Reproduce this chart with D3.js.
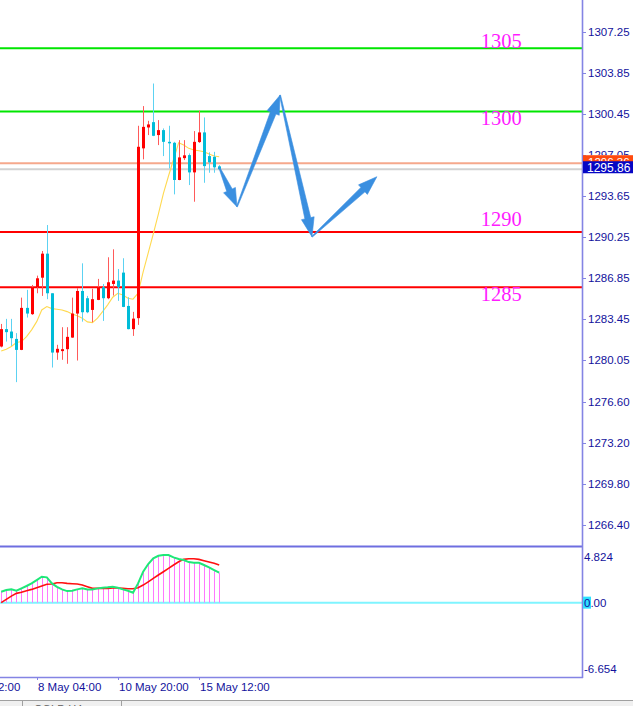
<!DOCTYPE html>
<html><head><meta charset="utf-8">
<script src="https://cdn.jsdelivr.net/npm/d3@7"></script>
<style>body{margin:0;background:#fff;overflow:hidden}svg{display:block}</style>
</head><body><svg id="c" width="633" height="706"></svg>
<script>
// ---------- DATA ----------
const opens  = [1281.18,1282.62,1282.42,1281.81,1280.90,1284.38,1283.86,1286.09,1286.88,1288.87,1285.59,1280.68,1280.80,1280.96,1281.92,1283.91,1285.78,1285.18,1284.21,1285.04,1286.09,1285.18,1286.36,1286.64,1287.30,1284.54,1282.62,1283.53,1297.59,1299.32,1299.76,1298.69,1299.10,1298.13,1298.05,1294.97,1296.78,1297.03,1295.60,1298.11,1298.91,1296.95,1296.89,1296.10];
const highs  = [1283.05,1283.47,1283.47,1282.29,1285.23,1285.87,1286.28,1287.05,1289.09,1291.24,1285.59,1281.32,1282.78,1282.78,1285.23,1286.01,1288.07,1285.37,1285.97,1286.78,1286.36,1288.57,1289.23,1287.60,1288.49,1285.26,1284.05,1299.46,1301.09,1299.87,1302.96,1299.93,1299.24,1299.46,1298.13,1298.27,1298.27,1297.17,1299.02,1300.70,1300.15,1297.26,1297.30,1296.20];
const lows   = [1281.11,1281.59,1281.23,1278.23,1280.88,1283.58,1283.80,1285.59,1285.37,1285.10,1279.44,1280.08,1280.08,1279.75,1281.90,1280.02,1283.24,1283.94,1283.19,1285.02,1283.30,1285.10,1285.40,1284.96,1284.44,1282.60,1282.06,1282.97,1296.68,1298.69,1298.60,1297.86,1296.95,1295.93,1293.78,1294.95,1296.62,1294.55,1293.17,1298.04,1294.74,1295.57,1295.57,1295.80];
const closes = [1282.62,1282.37,1281.87,1280.90,1284.38,1283.91,1286.09,1286.83,1288.87,1285.59,1280.68,1280.99,1280.96,1281.98,1283.91,1285.78,1284.02,1284.02,1285.10,1286.09,1285.18,1286.50,1286.64,1286.09,1284.46,1282.62,1283.49,1297.72,1299.37,1299.57,1298.63,1299.10,1298.13,1298.03,1294.97,1296.84,1297.01,1295.60,1298.13,1298.91,1296.12,1296.43,1296.02,1295.86];
const maValues = [1280.80,1280.96,1281.18,1281.51,1281.59,1282.00,1282.56,1283.24,1284.21,1284.49,1284.32,1284.27,1284.21,1284.07,1283.88,1283.72,1283.53,1283.22,1283.16,1283.53,1284.07,1284.63,1285.26,1285.59,1285.45,1285.18,1285.10,1285.60,1287.36,1288.93,1290.50,1292.15,1293.86,1295.30,1296.68,1298.05,1297.86,1297.59,1297.45,1297.39,1297.31,1297.12,1296.95,1296.89];
const macdMain   = [0.96,1.11,1.17,1.05,1.26,1.47,1.70,1.99,2.29,2.23,1.70,1.40,1.17,1.02,1.05,1.17,1.26,1.17,1.17,1.26,1.32,1.35,1.40,1.32,1.17,1.05,0.87,1.70,2.73,3.41,3.91,4.14,4.20,4.20,4.00,3.85,3.76,3.58,3.52,3.52,3.32,3.12,2.88,2.64];
const macdSignal = [0.00,0.29,0.58,0.82,0.91,1.05,1.17,1.32,1.47,1.62,1.64,1.76,1.76,1.70,1.67,1.64,1.55,1.40,1.26,1.26,1.26,1.26,1.29,1.29,1.26,1.23,1.23,1.32,1.55,1.84,2.14,2.44,2.73,3.03,3.32,3.61,3.82,3.87,3.87,3.82,3.70,3.58,3.47,3.32];

const priceTicks = [1307.25,1303.85,1300.45,1297.05,1293.65,1290.25,1286.85,1283.45,1280.05,1276.60,1273.20,1269.80,1266.40];
const priceTickLabels = ["1307.25","1303.85","1300.45","1297.05","1293.65","1290.25","1286.85","1283.45","1280.05","1276.60","1273.20","1269.80","1266.40"];
const macdTicks = [4.824, 0, -6.654];
const macdTickLabels = ["4.824","0.00","-6.654"];
const timeTickIndex = [-9, 7, 23, 39];
const timeTickLabels = ["3 May 12:00","8 May 04:00","10 May 20:00","15 May 12:00"];

const levelNames = ["1305","1300","1290","1285"];
const levelPrices = [1305.88,1300.65,1290.66,1286.09];
const levelTextPrices = [1305.88,1299.54,1291.16,1284.98];
const levelKinds = ["res","res","sup","sup"];
const levelTextIndex = 94.6;

const askPrice = 1296.36, bidPrice = 1295.86;
const pathIndex  = [43, 46.5, 55, 61.3, 74.1];
const pathPrices = [1296.02, 1292.76, 1301.99, 1290.27, 1295.24];

// ---------- LAYOUT ----------
const W = 633, H = 706, plotR = 582;
const mainTop = 0, mainBot = 546, macdTop = 548, macdBot = 678;
const svg = d3.select("#c");
const x = d3.scaleLinear().domain([0, 43]).range([1.2, 219.2]);
const y = d3.scaleLinear().domain([1266.40, 1307.25]).range([525, 31.7]);
const ym = d3.scaleLinear().domain([-6.654, 4.824]).range([macdBot, macdTop]);
const axisColor = "#8484e4", labelColor = "#12129c";
const font = "'Liberation Sans', Arial, sans-serif";
const fs = 11.5;

svg.append("rect").attr("width", W).attr("height", H).attr("fill", "#fff");
const defs = svg.append("defs");
defs.append("clipPath").attr("id","cm").append("rect").attr("x",0).attr("y",mainTop).attr("width",plotR).attr("height",mainBot-mainTop);
defs.append("clipPath").attr("id","cd").append("rect").attr("x",0).attr("y",macdTop).attr("width",plotR).attr("height",macdBot-macdTop);

const gm = svg.append("g").attr("clip-path","url(#cm)");
const levColor = {res:"#00e600", sup:"#ff0000"};
levelPrices.forEach((p,i)=>{
  gm.append("line").attr("x1",0).attr("x2",plotR).attr("y1",y(p)).attr("y2",y(p))
    .attr("stroke",levColor[levelKinds[i]]).attr("stroke-width",2);
});
gm.append("line").attr("x1",0).attr("x2",plotR).attr("y1",y(askPrice)).attr("y2",y(askPrice)).attr("stroke","#f6a88c").attr("stroke-width",2);
gm.append("line").attr("x1",0).attr("x2",plotR).attr("y1",y(bidPrice)).attr("y2",y(bidPrice)).attr("stroke","#d2d2d2").attr("stroke-width",2);

gm.append("path").datum(maValues).attr("fill","none").attr("stroke","#ffd94f").attr("stroke-width",1.1)
  .attr("d", d3.line().x((d,i)=>x(i)).y(d=>y(d)));

opens.forEach((o,i)=>{
  const c = closes[i], up = c >= o;
  const cx = Math.round(x(i));
  gm.append("line").attr("x1",cx+0.5).attr("x2",cx+0.5).attr("y1",y(highs[i])).attr("y2",y(lows[i]))
    .attr("stroke", up ? "#ff5a5a" : "#5cd2f2").attr("stroke-width",1);
  const top = y(Math.max(o,c)), bot = y(Math.min(o,c));
  gm.append("rect").attr("x",cx-1).attr("width",3).attr("y",top).attr("height",Math.max(1.5,bot-top))
    .attr("fill", up ? "#ff0000" : "#00bcd8");
});

function arrow(p0,p1){
  const dx=p1[0]-p0[0], dy=p1[1]-p0[1], L=Math.hypot(dx,dy);
  const ux=dx/L, uy=dy/L, nx=-uy, ny=ux;
  const hl=Math.min(19, L*0.42), hw=6.5, w0=0.5, w1=3;
  const bx=p1[0]-ux*hl, by=p1[1]-uy*hl;
  const pts=[[p0[0]+nx*w0,p0[1]+ny*w0],[bx+nx*w1,by+ny*w1],[bx+nx*hw,by+ny*hw],[p1[0],p1[1]],
    [bx-nx*hw,by-ny*hw],[bx-nx*w1,by-ny*w1],[p0[0]-nx*w0,p0[1]-ny*w0]];
  gm.append("path").attr("d","M"+pts.map(p=>p.join(",")).join("L")+"Z").attr("fill","#3a8fe0").attr("stroke","#3a8fe0").attr("stroke-width",0.6).attr("stroke-linejoin","round");
}
for(let k=0;k<pathIndex.length-1;k++){
  arrow([x(pathIndex[k]),y(pathPrices[k])],[x(pathIndex[k+1]),y(pathPrices[k+1])]);
}

levelNames.forEach((t,i)=>{
  gm.append("text").attr("x",x(levelTextIndex)).attr("y",y(levelTextPrices[i]))
    .attr("fill","#ff1cff").attr("font-family","'Liberation Serif','Times New Roman',serif").attr("font-size",20.5).text(t);
});

// ---------- MACD ----------
const gd = svg.append("g").attr("clip-path","url(#cd)");
gd.append("line").attr("x1",0).attr("x2",plotR).attr("y1",ym(0)).attr("y2",ym(0)).attr("stroke","#7ff4ff").attr("stroke-width",2);
macdMain.forEach((v,i)=>{
  const cx=Math.round(x(i))+0.5;
  gd.append("line").attr("x1",cx).attr("x2",cx).attr("y1",ym(0)).attr("y2",ym(v)).attr("stroke","#ff78ff").attr("stroke-width",1);
});
gd.append("path").datum(macdSignal).attr("fill","none").attr("stroke","#ff1010").attr("stroke-width",1.6)
  .attr("d", d3.line().x((d,i)=>x(i)).y(d=>ym(d)));
gd.append("path").datum(macdMain).attr("fill","none").attr("stroke","#1ee878").attr("stroke-width",2)
  .attr("d", d3.line().x((d,i)=>x(i)).y(d=>ym(d)));

svg.append("line").attr("x1",0).attr("x2",plotR+1).attr("y1",546.5).attr("y2",546.5).attr("stroke","#6e6ee0").attr("stroke-width",2);
svg.append("line").attr("x1",0).attr("x2",plotR+1).attr("y1",677.5).attr("y2",677.5).attr("stroke",axisColor).attr("stroke-width",1.5);
svg.append("line").attr("x1",plotR+0.5).attr("x2",plotR+0.5).attr("y1",0).attr("y2",678).attr("stroke",axisColor).attr("stroke-width",1.6);

// price axis
const askTop = y(askPrice)-8, bidTop = y(bidPrice)-8;
defs.append("clipPath").attr("id","cAskLbl").append("rect").attr("x",plotR).attr("y",0).attr("width",W-plotR).attr("height",askTop);
defs.append("clipPath").attr("id","cAsk").append("rect").attr("x",plotR).attr("y",askTop).attr("width",W-plotR).attr("height",bidTop-askTop);
priceTicks.forEach((v,i)=>{
  const yy=y(v);
  svg.append("line").attr("x1",plotR+1).attr("x2",plotR+4).attr("y1",Math.round(yy)+0.5).attr("y2",Math.round(yy)+0.5).attr("stroke",axisColor);
  const t = svg.append("text").attr("x",588).attr("y",yy).attr("dy","0.36em").attr("fill",labelColor)
    .attr("font-family",font).attr("font-size",fs).text(priceTickLabels[i]);
  if (yy > askTop - 8 && yy < bidTop + 14) t.attr("clip-path","url(#cAskLbl)");
});
svg.append("rect").attr("x",plotR+1).attr("y",askTop).attr("width",W-plotR).attr("height",13).attr("fill","#ff4a0e");
svg.append("text").attr("x",588).attr("y",y(askPrice)-1.5).attr("dy","0.36em").attr("fill","#fff").attr("font-family",font).attr("font-size",fs).attr("clip-path","url(#cAsk)").text(askPrice.toFixed(2));
svg.append("rect").attr("x",plotR+1).attr("y",bidTop).attr("width",W-plotR).attr("height",12).attr("fill","#0606c4");
svg.append("text").attr("x",587).attr("y",y(bidPrice)-2).attr("dy","0.36em").attr("fill","#fff").attr("font-family",font).attr("font-size",12).text(bidPrice.toFixed(2));

// macd axis
const macdOff = [9, 0, -9];
svg.append("rect").attr("x",plotR+1).attr("y",ym(0)-6).attr("width",8).attr("height",12).attr("fill","#2ee0ff");
macdTicks.forEach((v,i)=>{
  svg.append("text").attr("x",584).attr("y",ym(v)+macdOff[i]).attr("dy","0.36em").attr("fill",labelColor)
    .attr("font-family",font).attr("font-size",fs).text(macdTickLabels[i]);
});

// time axis
timeTickIndex.forEach((ti,i)=>{
  const tx=Math.round(x(ti))+0.5;
  svg.append("line").attr("x1",tx).attr("x2",tx).attr("y1",677).attr("y2",680).attr("stroke",axisColor);
  svg.append("text").attr("x",tx+0.5).attr("y",691).attr("fill",labelColor).attr("font-family",font).attr("font-size",fs).text(timeTickLabels[i]);
});

// bottom tab strip
svg.append("rect").attr("x",0).attr("y",700).attr("width",W).attr("height",6).attr("fill","#f0f0f0");
svg.append("line").attr("x1",0).attr("x2",W).attr("y1",700.5).attr("y2",700.5).attr("stroke","#a0a0a0");
[22.5,121.5].forEach(sx=>svg.append("line").attr("x1",sx).attr("x2",sx).attr("y1",701).attr("y2",706).attr("stroke","#a0a0a0"));
svg.append("text").attr("x",34).attr("y",713).attr("fill","#606060").attr("font-family",font).attr("font-size",11).text("GOLD,H4");
</script></body></html>
